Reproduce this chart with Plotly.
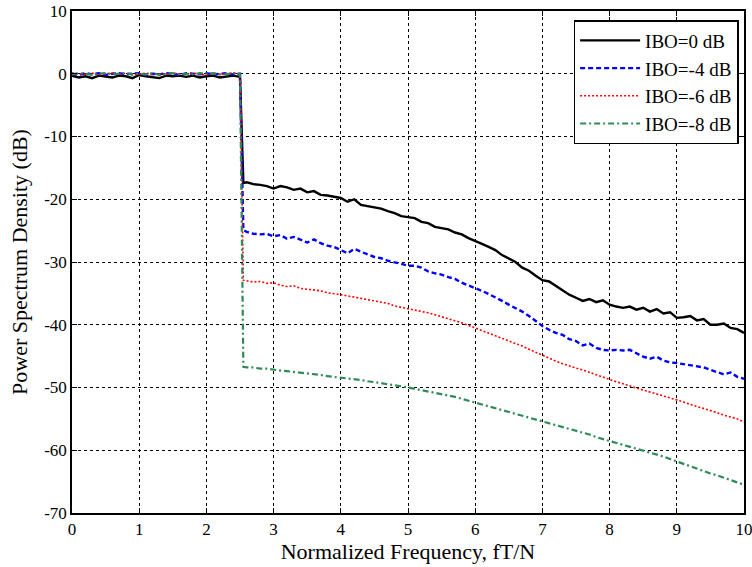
import plotly.graph_objects as go

# ---- data ----
band_x = [round(0.1 * i, 1) for i in range(26)]  # 0 .. 2.5
slope_x = [2.55] + [round(2.6 + 0.1 * i, 1) for i in range(75)]  # 2.55, 2.6 .. 10

ibo0_band = [-0.3, -0.6, -0.4, -0.7, -0.3, -0.5, -0.6, -0.3, -0.4, -0.7, -0.2, -0.4, -0.5,
             -0.7, -0.3, -0.4, -0.3, -0.5, -0.3, -0.6, -0.4, -0.3, -0.6, -0.4, -0.3, -0.5]
ibo4_band = [0.0, -0.2, 0.1, -0.1, 0.1, -0.2, 0.0, 0.1, -0.1, 0.0, 0.1, -0.2, 0.0,
             -0.1, 0.1, 0.0, -0.2, 0.1, 0.0, -0.1, 0.1, -0.1, 0.0, 0.1, -0.1, 0.0]
ibo6_band = [0.1, 0.0, -0.1, 0.1, -0.2, 0.0, 0.1, -0.1, 0.1, -0.2, 0.0, 0.1, -0.1,
             0.0, -0.1, 0.1, 0.0, -0.1, 0.1, 0.0, -0.2, 0.1, -0.1, 0.0, 0.1, 0.0]
ibo8_band = [-0.1, 0.1, 0.0, -0.2, 0.0, 0.1, -0.1, 0.0, 0.1, -0.1, 0.0, -0.1, 0.1,
             -0.2, 0.0, 0.1, -0.1, 0.0, -0.1, 0.1, 0.0, 0.1, -0.1, -0.1, 0.1, 0.0]

ibo0_slope = [-17.4, -17.3, -17.6, -17.7, -17.9, -18.3, -17.9, -18.1, -18.5, -18.3,
              -18.9, -18.7, -19.3, -19.4, -19.6, -19.8, -20.4, -20.0, -20.9, -21.1,
              -21.4, -21.5, -21.9, -22.2, -22.7, -22.9, -23.0, -23.6, -23.8, -24.4,
              -24.6, -24.8, -25.3, -25.6, -26.2, -26.6, -27.1, -27.6, -28.1, -28.9,
              -29.4, -30.0, -30.9, -31.4, -32.2, -32.9, -33.1, -33.8, -34.4, -35.2,
              -35.7, -36.2, -35.9, -36.4, -36.1, -36.8, -37.1, -37.3, -37.1, -37.6,
              -37.3, -37.9, -37.5, -38.2, -38.0, -38.9, -38.8, -38.6, -39.3, -39.1,
              -40.0, -40.0, -39.8, -40.5, -40.7, -41.3]
ibo4_slope = [-24.9, -25.2, -25.5, -25.6, -25.5, -25.9, -25.7, -26.3, -26.0, -26.5,
              -26.9, -26.4, -27.0, -27.4, -27.6, -28.1, -28.6, -27.9, -28.4, -28.8,
              -29.2, -29.4, -29.8, -30.0, -30.3, -30.6, -30.6, -30.9, -31.5, -31.8,
              -32.0, -32.4, -32.7, -33.3, -33.7, -34.2, -34.6, -35.1, -35.6, -36.2,
              -36.8, -37.3, -37.9, -38.6, -39.4, -40.2, -40.8, -41.3, -41.6, -42.3,
              -42.6, -43.3, -43.0, -43.7, -44.0, -44.1, -44.0, -44.1, -44.0, -44.6,
              -45.1, -45.4, -45.1, -45.7, -46.0, -46.1, -46.3, -46.4, -46.7, -46.8,
              -47.2, -47.5, -47.9, -47.6, -48.3, -48.6]
ibo6_slope = [-32.9, -33.0, -33.2, -33.1, -33.4, -33.3, -33.7, -33.9, -33.8, -34.2,
              -34.3, -34.5, -34.6, -34.9, -35.0, -35.2, -35.4, -35.6, -35.8, -36.1,
              -36.2, -36.5, -36.6, -37.0, -37.2, -37.4, -37.6, -37.9, -38.1, -38.4,
              -38.7, -39.0, -39.3, -39.7, -40.1, -40.5, -40.9, -41.3, -41.8, -42.2,
              -42.6, -43.0, -43.4, -43.9, -44.4, -44.9, -45.4, -45.8, -46.2, -46.6,
              -46.9, -47.2, -47.6, -48.0, -48.4, -48.8, -49.1, -49.4, -49.8, -50.1,
              -50.4, -50.7, -51.0, -51.3, -51.6, -52.0, -52.3, -52.7, -53.0, -53.3,
              -53.7, -54.0, -54.4, -54.7, -55.0, -55.5]
ibo8_slope = [-46.7, -46.8, -46.8, -47.0, -47.0, -47.2, -47.3, -47.4, -47.5, -47.7,
              -47.8, -47.9, -48.0, -48.2, -48.3, -48.4, -48.6, -48.7, -48.8, -49.0,
              -49.1, -49.3, -49.5, -49.6, -49.8, -50.0, -50.2, -50.4, -50.6, -50.8,
              -51.0, -51.3, -51.5, -51.8, -52.1, -52.4, -52.7, -53.0, -53.3, -53.6,
              -53.9, -54.2, -54.5, -54.8, -55.1, -55.4, -55.7, -56.0, -56.3, -56.5,
              -56.8, -57.2, -57.5, -57.9, -58.2, -58.6, -58.9, -59.2, -59.5, -59.7,
              -60.0, -60.3, -60.7, -61.0, -61.4, -61.8, -62.2, -62.5, -62.9, -63.3,
              -63.7, -64.0, -64.4, -64.8, -65.1, -65.5]

series_names = ["IBO=0 dB", "IBO=-4 dB", "IBO=-6 dB", "IBO=-8 dB"]
x_ticks = list(range(0, 11))
y_ticks = list(range(-70, 11, 10))

# ---- figure ----
freq = band_x + slope_x
series = [ibo0_band + ibo0_slope, ibo4_band + ibo4_slope,
          ibo6_band + ibo6_slope, ibo8_band + ibo8_slope]
styles = [dict(color="black", width=2.4, dash="solid"),
          dict(color="#0000FF", width=2.4, dash="5px,3px"),
          dict(color="#FF0000", width=1.6, dash="2px,2px"),
          dict(color="#2E8B57", width=2.2, dash="6px,3px,2px,3px")]

fig = go.Figure()
for name, vals, st in zip(series_names, series, styles):
    fig.add_trace(go.Scatter(x=freq, y=vals, mode="lines", name=name, line=st))

font_family = "Liberation Serif, Times New Roman, serif"
axis_common = dict(showline=True, linecolor="black", linewidth=1.5, mirror="allticks",
                   ticks="inside", ticklen=5, tickcolor="black", tickwidth=1,
                   showgrid=True, gridcolor="black", gridwidth=1, griddash="dot",
                   zeroline=False, automargin=False, ticklabeloverflow="allow",
                   tickfont=dict(family=font_family, size=17, color="black"))

fig.update_xaxes(range=[0, 10], tickvals=x_ticks, ticktext=[str(v) for v in x_ticks],
                 title=dict(text="Normalized Frequency, fT/N", standoff=3,
                            font=dict(family=font_family, size=22, color="black")),
                 **axis_common)
fig.update_yaxes(range=[-70, 10], tickvals=y_ticks, ticktext=[str(v) for v in y_ticks],
                 title=dict(text="Power Spectrum Density (dB)", standoff=10,
                            font=dict(family=font_family, size=22, color="black")),
                 **axis_common)

fig.update_layout(
    width=752, height=567,
    margin=dict(l=72, r=8, t=11, b=54, autoexpand=False),
    paper_bgcolor="white", plot_bgcolor="white",
    showlegend=True,
    legend=dict(x=0.992, y=0.982, xanchor="right", yanchor="top",
                bgcolor="white", bordercolor="black", borderwidth=1.5,
                font=dict(family=font_family, size=19, color="black"),
                tracegroupgap=0, itemwidth=60),
)

# remove the default page margin so the figure fills the window exactly
fig.write_html("out.html", config={"displayModeBar": False},
               post_script="document.body.style.margin='0';document.body.style.overflow='hidden';")
